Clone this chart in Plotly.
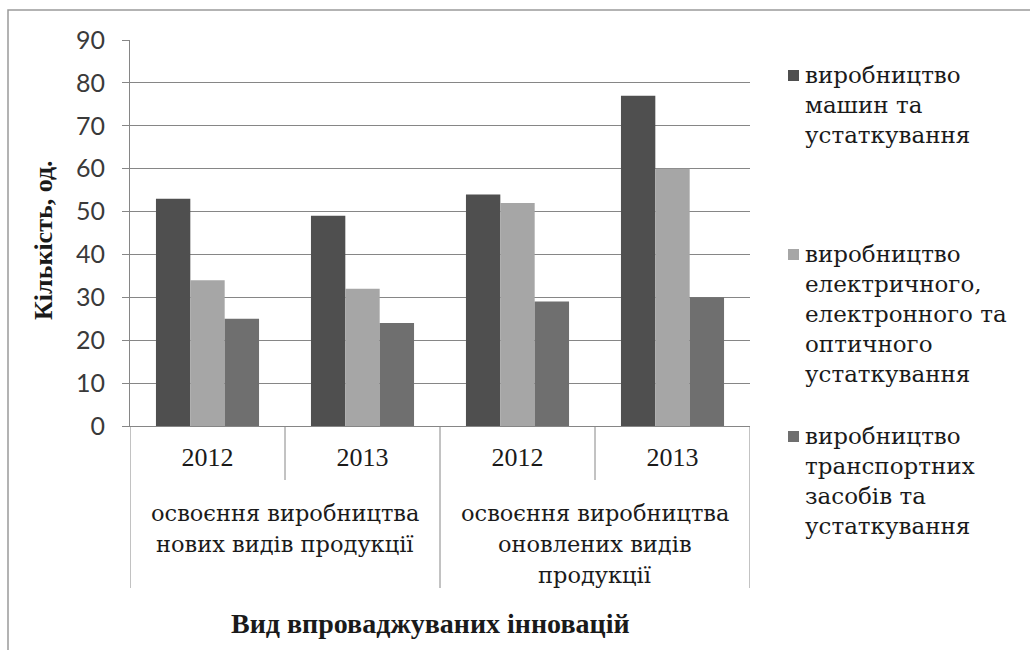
import plotly.graph_objects as go

# ---- data -------------------------------------------------------------
groups = [
    "освоєння виробництва\nнових видів продукції",
    "освоєння виробництва\nоновлених видів\nпродукції",
]
years = ["2012", "2013"]

series_names = [
    "виробництво\nмашин та\nустаткування",
    "виробництво\nелектричного,\nелектронного та\nоптичного\nустаткування",
    "виробництво\nтранспортних\nзасобів та\nустаткування",
]
machines = [53, 49, 54, 77]
electrical = [34, 32, 52, 60]
transport = [25, 24, 29, 30]

y_ticks = [0, 10, 20, 30, 40, 50, 60, 70, 80, 90]
y_title = "Кількість, од."
x_title = "Вид впроваджуваних інновацій"

# ---- styling ----------------------------------------------------------
W, H = 1030, 650
L, R, T, B = 130, 280, 40, 224
PW, PH = W - L - R, H - T - B

SERIF = "Liberation Serif"
CYR_SERIF = "DejaVu Serif"
SANS = "Lato"
TEXT = "#1a1a1a"
GRID = "#868686"
colors = ["#4f4f4f", "#a6a6a6", "#6f6f6f"]
GROUP_FONT = dict(family=CYR_SERIF, size=22.5, color=TEXT)
LEGEND_FONT = dict(family=CYR_SERIF, size=23, color=TEXT)


def px_x(px):
    return (px - L) / PW


def px_y(py):
    return (H - B - py) / PH


# categories: every group repeated for each year
cat_years = [y for _ in groups for y in years]
xs = list(range(len(cat_years)))

fig = go.Figure()
for name, vals, col in zip(series_names, [machines, electrical, transport], colors):
    fig.add_trace(go.Bar(
        x=xs, y=vals, name=name.replace("\n", " "),
        marker=dict(color=col, line=dict(width=0)),
        showlegend=False,
    ))

shapes = []
annotations = []

# outer frame of the chart
shapes.append(dict(type="rect", xref="paper", yref="paper",
                   x0=px_x(8), x1=px_x(1045), y0=px_y(665), y1=px_y(10),
                   line=dict(color="#9a9a9a", width=1.5), layer="below"))

# category axis dividers: short between years, long at group edges
n_years = len(years)
for i in range(len(cat_years) + 1):
    xpos = i - 0.5
    long_line = (i % n_years == 0)
    shapes.append(dict(type="line", xref="x", yref="paper",
                       x0=xpos, x1=xpos, y0=0,
                       y1=px_y(588 if long_line else 480),
                       line=dict(color=GRID, width=1)))

# group labels below the years
line_gap = 31
for gi, g in enumerate(groups):
    center = gi * n_years + (n_years - 1) / 2
    for li, line in enumerate(g.split("\n")):
        annotations.append(dict(x=center, xref="x", y=px_y(513 + li * line_gap), yref="paper",
                                text=line, showarrow=False, xanchor="center", yanchor="middle",
                                font=GROUP_FONT))

# axis titles
annotations.append(dict(x=px_x(430), xref="paper", y=px_y(623), yref="paper",
                        text="<b>%s</b>" % x_title, showarrow=False,
                        xanchor="center", yanchor="middle",
                        font=dict(family=SERIF, size=28, color=TEXT)))
annotations.append(dict(x=px_x(43), xref="paper", y=px_y(240), yref="paper",
                        text="<b>%s</b>" % y_title, showarrow=False, textangle=-90,
                        xanchor="center", yanchor="middle",
                        font=dict(family=SERIF, size=26, color=TEXT)))

# legend: square swatch + multi-line label per series
legend_tops = [75, 254, 436]
leg_gap = 30
for top, name, col in zip(legend_tops, series_names, colors):
    shapes.append(dict(type="rect", xref="paper", yref="paper",
                       x0=px_x(788), x1=px_x(799), y0=px_y(top + 6), y1=px_y(top - 5),
                       fillcolor=col, line=dict(width=0)))
    for li, line in enumerate(name.split("\n")):
        annotations.append(dict(x=px_x(803), xref="paper", y=px_y(top + li * leg_gap), yref="paper",
                                text=line, showarrow=False, xanchor="left", yanchor="middle",
                                font=LEGEND_FONT))

fig.update_layout(
    width=W, height=H,
    margin=dict(l=L, r=R, t=T, b=B, autoexpand=False),
    paper_bgcolor="white", plot_bgcolor="white",
    barmode="group", bargap=0.335, bargroupgap=0,
    shapes=shapes, annotations=annotations,
    showlegend=False,
)
fig.update_xaxes(
    range=[-0.5, len(cat_years) - 0.5],
    tickmode="array", tickvals=xs, ticktext=cat_years,
    tickfont=dict(family=SERIF, size=26, color=TEXT),
    ticks="", ticklabelstandoff=8,
    showgrid=False, zeroline=False,
    showline=True, linecolor=GRID, linewidth=1,
    fixedrange=True,
)
fig.update_yaxes(
    range=[0, 90], tickmode="array", tickvals=y_ticks,
    tickfont=dict(family=SANS, size=25, color="#3a3a3a"),
    ticks="outside", ticklen=7, tickcolor=GRID, ticklabelstandoff=12,
    showgrid=True, gridcolor=GRID, gridwidth=1,
    zeroline=False, showline=True, linecolor=GRID, linewidth=1,
    fixedrange=True,
)

fig.write_html("out.html")
